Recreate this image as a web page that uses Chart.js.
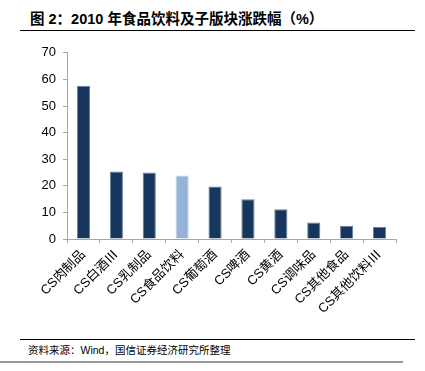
<!DOCTYPE html>
<html>
<head>
<meta charset="utf-8">
<script src="https://cdn.jsdelivr.net/npm/chart.js@4/dist/chart.umd.min.js"></script>
<style>
  body { margin: 0; width: 425px; height: 371px; background: #fff; position: relative; overflow: hidden;
         font-family: "Liberation Sans", "Noto Sans CJK SC", sans-serif; }
  #title { position: absolute; left: 30px; top: 7px; font-size: 14.5px; font-weight: bold; color: #000; }
  #line1 { position: absolute; left: 20px; top: 30px; width: 395px; height: 1px; background: #000; }
  #line2 { position: absolute; left: 20px; top: 339px; width: 395px; height: 1px; background: #000; }
  #source { position: absolute; left: 28px; top: 342px; font-size: 10.5px; color: #000; }
  #line3 { position: absolute; left: 0; top: 361px; width: 403px; height: 2px; background: #999; }
  #wrap { position: absolute; left: 0; top: 38px; width: 425px; height: 297px; }
</style>
</head>
<body>
<div id="title">图 2：2010 年食品饮料及子版块涨跌幅（%）</div>
<div id="line1"></div>
<div id="wrap"><canvas id="grafica"></canvas></div>
<div id="line2"></div>
<div id="source">资料来源：Wind，国信证券经济研究所整理</div>
<div id="line3"></div>
<script>
// Categorías y valores (%)
const categorias = ['CS肉制品', 'CS白酒Ⅲ', 'CS乳制品', 'CS食品饮料', 'CS葡萄酒', 'CS啤酒', 'CS黄酒', 'CS调味品', 'CS其他食品', 'CS其他饮料Ⅲ'];
const valores = [57.6, 25.4, 25.0, 23.9, 19.7, 14.9, 11.2, 6.2, 5.0, 4.5];
const colores = ['#17365D', '#17365D', '#17365D', '#95B3D7', '#17365D', '#17365D', '#17365D', '#17365D', '#17365D', '#17365D'];
const bordes = ['#6b7f9c', '#6b7f9c', '#6b7f9c', '#c6d6ea', '#6b7f9c', '#6b7f9c', '#6b7f9c', '#6b7f9c', '#6b7f9c', '#6b7f9c'];

const ctx = document.getElementById('grafica').getContext('2d');
const grafica = new Chart(ctx, {
    type: 'bar',
    data: {
        labels: categorias,
        datasets: [{
            data: valores,
            backgroundColor: colores,
            borderColor: bordes,
            borderWidth: 1,
            barPercentage: 0.4,
            categoryPercentage: 1.0
        }]
    },
    options: {
        responsive: true,
        maintainAspectRatio: false,
        animation: false,
        layout: { padding: { top: 10, right: 29, left: 0, bottom: 0 } },
        plugins: {
            legend: { display: false },
            tooltip: { enabled: false }
        },
        scales: {
            x: {
                afterFit: (s) => { s.height = 96; },
                border: { color: '#a6a6a6', width: 1 },
                grid: { drawOnChartArea: false, color: '#a6a6a6', tickLength: 4 },
                ticks: {
                    minRotation: 45, maxRotation: 45, padding: 4,
                    color: '#000',
                    font: { size: 13, family: '"Liberation Sans", "Noto Sans CJK SC"' }
                }
            },
            y: {
                min: 0, max: 70,
                afterFit: (s) => { s.width = 67; },
                border: { color: '#a6a6a6', width: 1 },
                grid: { drawOnChartArea: false, color: '#a6a6a6', tickLength: 4 },
                ticks: {
                    stepSize: 10, padding: 7,
                    color: '#000',
                    font: { size: 13, family: '"Liberation Sans"' }
                }
            }
        }
    }
});
</script>
</body>
</html>
